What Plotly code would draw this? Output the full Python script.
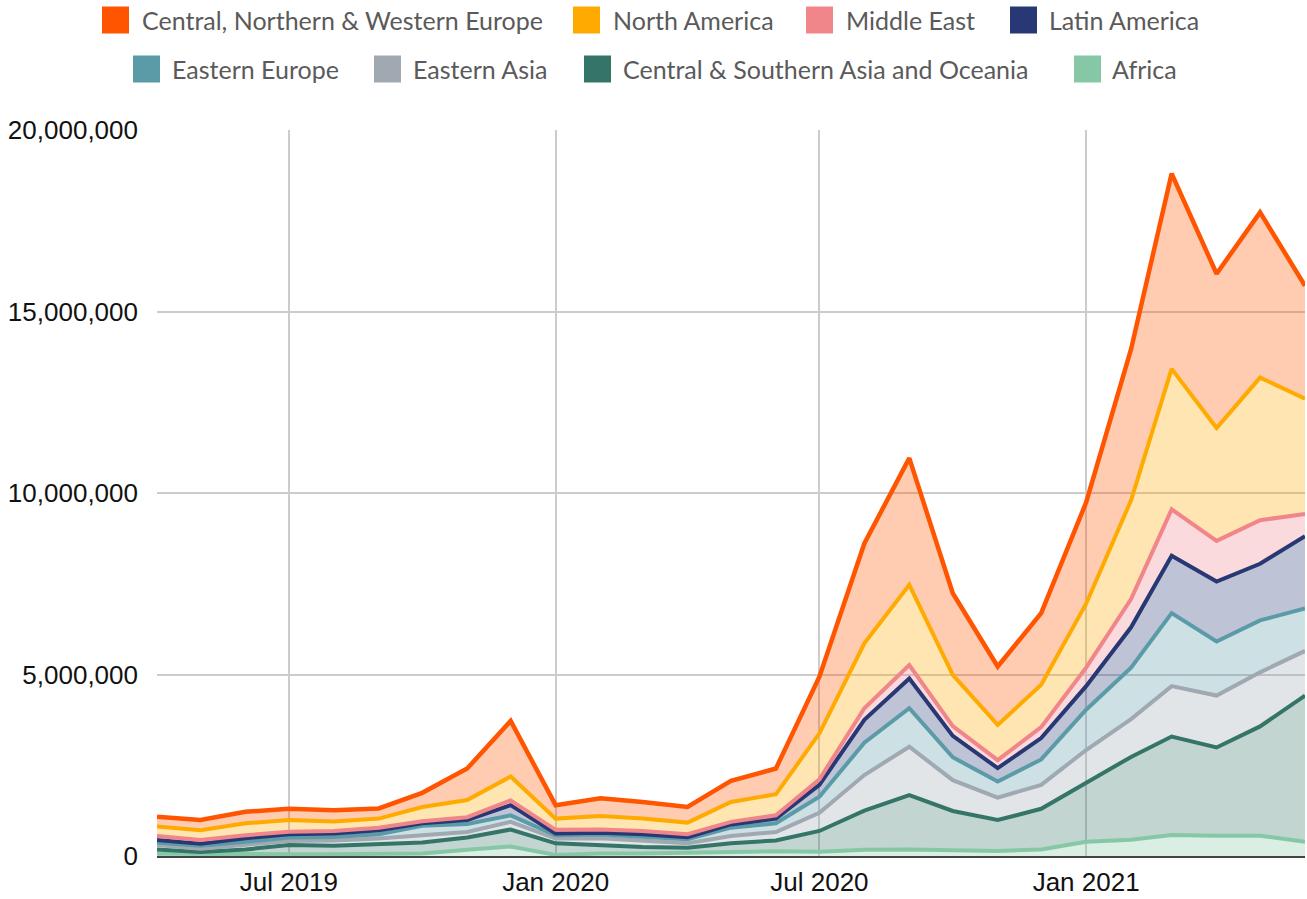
import plotly.graph_objects as go

# ---------------- data (values in thousands) ----------------
months = [
    "2019-04-01", "2019-05-01", "2019-06-01", "2019-07-01", "2019-08-01", "2019-09-01",
    "2019-10-01", "2019-11-01", "2019-12-01", "2020-01-01", "2020-02-01", "2020-03-01",
    "2020-04-01", "2020-05-01", "2020-06-01", "2020-07-01", "2020-08-01", "2020-09-01",
    "2020-10-01", "2020-11-01", "2020-12-01", "2021-01-01", "2021-02-01", "2021-03-01",
    "2021-04-01", "2021-05-01", "2021-06-01",
]

africa = [60, 50, 50, 50, 50, 50, 70, 170, 260, 30, 70, 70, 90, 110, 130,
          120, 170, 180, 150, 140, 180, 390, 450, 580, 560, 560, 390]
central_southern_asia_oceania = [120, 60, 130, 250, 230, 280, 300, 340, 470, 320, 230, 180, 140, 240, 300,
                                 570, 1080, 1500, 1090, 850, 1120, 1620, 2280, 2710, 2430, 3010, 4030]
eastern_asia = [120, 90, 130, 110, 150, 150, 200, 150, 210, 130, 190, 160, 120, 200, 230,
                500, 980, 1330, 850, 620, 660, 910, 1040, 1390, 1430, 1490, 1230]
eastern_europe = [70, 80, 80, 100, 90, 120, 260, 220, 180, 90, 100, 120, 110, 230, 240,
                  440, 890, 1060, 630, 440, 700, 1110, 1420, 2010, 1490, 1430, 1170]
latin_america = [70, 60, 100, 90, 100, 110, 70, 110, 280, 50, 50, 70, 60, 90, 130,
                 330, 630, 820, 590, 370, 590, 650, 1110, 1580, 1650, 1560, 1990]
middle_east = [110, 100, 80, 70, 70, 70, 60, 80, 130, 100, 90, 90, 80, 70, 90,
               150, 320, 370, 270, 220, 300, 510, 780, 1280, 1120, 1200, 610]
north_america = [260, 270, 330, 320, 260, 250, 390, 470, 660, 310, 370, 340, 320, 550, 580,
                 1270, 1790, 2210, 1410, 970, 1170, 1760, 2720, 3870, 3110, 3930, 3180]
cnw_europe = [270, 280, 320, 310, 310, 280, 390, 870, 1530, 370, 490, 460, 430, 580, 710,
              1560, 2750, 3490, 2250, 1610, 1970, 2790, 4160, 5380, 4250, 4550, 3110]

series_names = [
    "Central, Northern & Western Europe", "North America", "Middle East", "Latin America",
    "Eastern Europe", "Eastern Asia", "Central & Southern Asia and Oceania", "Africa",
]
series_values = [cnw_europe, north_america, middle_east, latin_america,
                 eastern_europe, eastern_asia, central_southern_asia_oceania, africa]

tick_vals_y = [0, 5000000, 10000000, 15000000, 20000000]
tick_text_y = ["0", "5,000,000", "10,000,000", "15,000,000", "20,000,000"]

# ---------------- styles ----------------
colors = ["#FF5500", "#FFAA00", "#F0858A", "#283874",
          "#5B9BA8", "#A0A8B2", "#357568", "#86C8A6"]
line_widths = [4.5, 4, 4, 4, 4, 4, 4, 4]


def rgba(hex_color, a):
    h = hex_color.lstrip("#")
    r, g, b = int(h[0:2], 16), int(h[2:4], 16), int(h[4:6], 16)
    return f"rgba({r},{g},{b},{a})"


W, H = 1307, 899
ML, MR, MT, MB = 157, 2, 130, 43
PW, PH = W - ML - MR, H - MT - MB

fig = go.Figure()
# stack from bottom (Africa) to top (Europe)
for i in reversed(range(len(series_names))):
    fig.add_trace(go.Scatter(
        x=months,
        y=[v * 1000 for v in series_values[i]],
        name=series_names[i],
        mode="lines",
        stackgroup="one",
        line=dict(color=colors[i], width=line_widths[i]),
        fillcolor=rgba(colors[i], 0.3),
        showlegend=False,
    ))

# ---------------- custom legend (square swatches + text) ----------------
legend_rows = [
    # (square left px, text left px, center y px) in page pixels
    (102, 140, 20), (573, 611, 20), (806, 844, 20), (1010, 1047, 20),
    (133, 170, 69), (374, 411, 69), (584, 621, 69), (1074, 1110, 69),
]
shapes = []
annotations = []
sq = 27
for i, (sx, tx, cy) in enumerate(legend_rows):
    shapes.append(dict(
        type="rect", xref="paper", yref="paper",
        x0=(sx - ML) / PW, x1=(sx + sq - ML) / PW,
        y0=(H - MB - (cy + sq / 2)) / PH, y1=(H - MB - (cy - sq / 2)) / PH,
        fillcolor=colors[i], line=dict(width=0), layer="above",
    ))
    annotations.append(dict(
        xref="paper", yref="paper",
        x=(tx - ML) / PW, y=(H - MB - cy) / PH,
        xanchor="left", yanchor="middle", showarrow=False,
        text=series_names[i],
        font=dict(family="Lato", size=25, color="#5A5A5A"),
    ))

fig.update_layout(
    width=W, height=H,
    margin=dict(l=ML, r=MR, t=MT, b=MB, pad=0, autoexpand=False),
    plot_bgcolor="white", paper_bgcolor="white",
    showlegend=False,
    shapes=shapes,
    annotations=annotations,
    font=dict(family="Liberation Sans, Arial, sans-serif", size=26, color="#111111"),
)
fig.update_xaxes(
    type="date",
    range=["2019-04-01", "2021-06-01"],
    tick0="2019-07-01", dtick="M6", tickformat="%b %Y",
    showgrid=True, gridcolor="#CCCCCC", gridwidth=2,
    showline=True, linecolor="#444444", linewidth=2,
    ticks="", ticklabelstandoff=2, automargin=False,
    tickfont=dict(size=26, color="#111111"),
)
fig.update_yaxes(
    range=[0, 20000000],
    tickvals=tick_vals_y, ticktext=tick_text_y,
    showgrid=True, gridcolor="#CCCCCC", gridwidth=2,
    zeroline=False, showline=False,
    ticks="", ticklabelstandoff=18, automargin=False,
    tickfont=dict(size=26, color="#111111"),
)

# remove the browser's default body margin so the figure sits at the page origin
fig.write_html(
    "out.html",
    config={"displayModeBar": False},
    post_script="document.body.style.margin='0';document.body.style.overflow='hidden';",
)
